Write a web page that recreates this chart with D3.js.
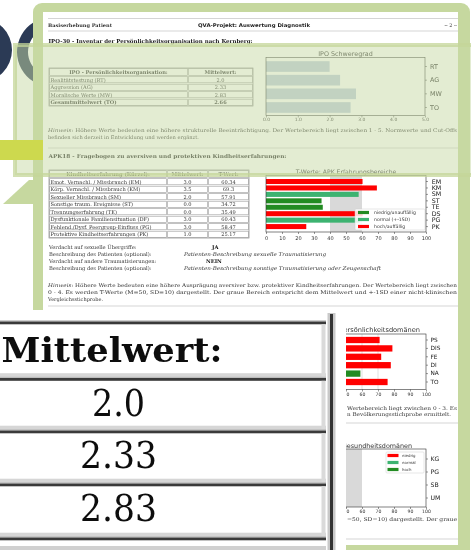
<!DOCTYPE html>
<html>
<head>
<meta charset="utf-8">
<script src="https://cdn.jsdelivr.net/npm/d3@7"></script>
<style>
  body { margin: 0; background: #fff; }
  svg { display: block; }
</style>
</head>
<body>
<script>
// IPO-30
const ipoCodes = ['RT', 'AG', 'MW', 'TO'];
const ipoNames = ['Realitätstestung (RT)', 'Aggression (AG)', 'Moralische Werte (MW)', 'Gesamtmittelwert (TO)'];
const ipoMeans = [2.0, 2.33, 2.83, 2.66];
const ipoTicks = [0, 1, 2, 3, 4, 5];

// APK18
const apkNames = ['Emot. Vernachl. / Missbrauch (EM)', 'Körp. Vernachl. / Missbrauch (KM)', 'Sexueller Missbrauch (SM)',
  'Sonstige traum. Ereignisse (ST)', 'Trennungserfahrung (TE)', 'Dysfunktionale Familiensituation (DF)',
  'Fehlend./Dysf. Peergroup-Einfluss (PG)', 'Protektive Kindheitserfahrungen (PK)'];
const apkCodes = ['EM', 'KM', 'SM', 'ST', 'TE', 'DS', 'PG', 'PK'];
const apkMeans = [3.0, 3.5, 2.0, 0.0, 0.0, 3.0, 3.0, 1.0];
const apkT = [60.34, 69.3, 57.91, 34.72, 35.49, 60.43, 58.47, 25.17];
const apkLevel = ['hoch', 'hoch', 'normal', 'niedrig', 'niedrig', 'hoch', 'normal', 'hoch'];
const apkLegend = ['niedrig/unauffällig', 'normal (+-1SD)', 'hoch/auffällig'];
const tTicks = [0, 10, 20, 30, 40, 50, 60, 70, 80, 90, 100];
const normBand = [40, 60];

// Persönlichkeitsdomänen
const persCodes = ['PS', 'DIS', 'FE', 'DI', 'NA', 'TO'];
const persT = [71, 79, 72, 78, 59, 76];
const persLevel = ['hoch', 'hoch', 'hoch', 'hoch', 'niedrig', 'hoch'];
const persGrid = [60, 70];

// Gesundheitsdomänen (keine Werte)
const gesCodes = ['KG', 'PG', 'SB', 'UM'];
const gesLegend = ['niedrig', 'normal', 'hoch'];
const gesBand = [0, 60];

const serif = '"DejaVu Serif", serif', sans = '"DejaVu Sans", sans-serif';
const navy = '#2b3a55', frameGreen = '#c6d89f';
const apkColor = {niedrig: '#228b22', normal: '#3cb371', hoch: '#ff0000'};
const gesColor = {niedrig: '#ff0000', normal: '#3cb371', hoch: '#228b22'};
const fmtMean = v => (v % 1 === 0 ? v.toFixed(1) : String(v));

const svg = d3.select('body').append('svg').attr('width', 471).attr('height', 550);
const defs = svg.append('defs');
defs.append('filter').attr('id', 'soft').append('feGaussianBlur').attr('stdDeviation', 0.3);
defs.append('filter').attr('id', 'softer').append('feGaussianBlur').attr('stdDeviation', 0.55);

function txt(sel, x, y, s, o = {}) {
  const t = sel.append('text').attr('x', x).attr('y', y).text(s)
    .attr('font-family', o.ff || serif).attr('font-size', o.fs || 5.2).attr('fill', o.fill || '#333');
  if (o.bold) t.attr('font-weight', 'bold');
  if (o.italic) t.attr('font-style', 'italic');
  if (o.anchor) t.attr('text-anchor', o.anchor);
  if (o.len) t.attr('textLength', o.len).attr('lengthAdjust', 'spacingAndGlyphs');
  return t;
}

// --- background logo shapes
svg.append('path').attr('transform', 'translate(-20,50)')
  .attr('d', d3.arc()({innerRadius: 20, outerRadius: 32, startAngle: 0, endAngle: Math.PI}))
  .attr('fill', navy);
svg.append('path').attr('transform', 'translate(52,52)')
  .attr('d', d3.arc()({innerRadius: 24, outerRadius: 35, startAngle: -1.15 * Math.PI, endAngle: 0.15 * Math.PI}))
  .attr('fill', navy);
svg.append('path').attr('d', 'M3,204 L29,180 L36,180 L36,204 Z').attr('fill', frameGreen);

// --- frame + page
svg.append('rect').attr('x', 33).attr('y', 3).attr('width', 437).attr('height', 600).attr('rx', 9).attr('fill', frameGreen);
svg.append('rect').attr('x', 43).attr('y', 12).attr('width', 415).attr('height', 533).attr('fill', '#fff');

const page = svg.append('g').attr('filter', 'url(#soft)');
const hline = (y, x0 = 48, x1 = 458) => page.append('line').attr('x1', x0).attr('x2', x1).attr('y1', y).attr('y2', y)
  .attr('stroke', '#d0d0d0').attr('stroke-width', 0.9);

hline(18.5);
txt(page, 48, 27, 'Basiserhebung Patient', {bold: true, fs: 4.8, len: 64});
txt(page, 198, 27, 'QVA-Projekt: Auswertung Diagnostik', {ff: sans, bold: true, fs: 5, len: 112, fill: '#222'});
txt(page, 457, 27, '-- 2 --', {fs: 4.8, anchor: 'end'});
hline(31);
txt(page, 48.5, 43, 'IPO-30 - Inventar der Persönlichkeitsorganisation nach Kernberg:', {bold: true, fs: 5.4, len: 204, fill: '#222'});

// table helper
function table(g, cols, top, heights, rows) {
  let y = top;
  rows.forEach((row, ri) => {
    const h = heights[ri];
    row.forEach((cell, ci) => {
      const cx0 = cols[ci], cx1 = cols[ci + 1];
      g.append('rect').attr('x', cx0 + 0.7).attr('y', y + 0.7).attr('width', cx1 - cx0 - 1.4).attr('height', h - 1.4)
        .attr('fill', 'none').attr('stroke', '#9a9a9a').attr('stroke-width', 0.6);
      const center = ri === 0 || ci > 0;
      txt(g, center ? (cx0 + cx1) / 2 : cx0 + 1.5, y + h / 2 + 1.9, cell.text,
        {fs: 5.1, bold: cell.bold, anchor: center ? 'middle' : null, fill: '#333'});
    });
    y += h;
  });
  g.append('rect').attr('x', cols[0]).attr('y', top).attr('width', cols[cols.length - 1] - cols[0]).attr('height', y - top)
    .attr('fill', 'none').attr('stroke', '#888').attr('stroke-width', 0.7);
}

// IPO table
const ipoRows = [[{text: 'IPO - Persönlichkeitsorganisation:', bold: true}, {text: 'Mittelwert:', bold: true}]]
  .concat(ipoNames.map((n, i) => [{text: n, bold: i === 3}, {text: fmtMean(ipoMeans[i]), bold: i === 3}]));
table(page, [49, 188, 253], 68, [8, 7.5, 7.5, 7.5, 7.5], ipoRows);

// chart helpers
function frameAxes(g, x, y, box, o) {
  const [fx0, fx1, fy0, fy1] = box;
  g.append('g').attr('transform', `translate(0,${fy1})`)
    .call(d3.axisBottom(x).tickValues(o.ticks).tickSize(2).tickPadding(o.pad))
    .call(a => a.select('.domain').remove())
    .call(a => a.selectAll('text').attr('font-family', sans).attr('font-size', o.tickFs).attr('fill', '#333'))
    .call(a => a.selectAll('line').attr('stroke', '#333').attr('stroke-width', 0.5));
  g.append('g').attr('transform', `translate(${fx1},0)`)
    .call(d3.axisRight(y).tickSize(2).tickPadding(o.ypad))
    .call(a => a.select('.domain').remove())
    .call(a => a.selectAll('text').attr('font-family', sans).attr('font-size', o.labFs).attr('fill', '#222'))
    .call(a => a.selectAll('line').attr('stroke', '#333').attr('stroke-width', 0.5));
  g.append('rect').attr('x', fx0).attr('y', fy0).attr('width', fx1 - fx0).attr('height', fy1 - fy0)
    .attr('fill', 'none').attr('stroke', '#333').attr('stroke-width', 0.6);
}
function legend(g, box, items, o) {
  const [lx0, lx1, ly0, ly1] = box;
  g.append('rect').attr('x', lx0).attr('y', ly0).attr('width', lx1 - lx0).attr('height', ly1 - ly0).attr('rx', 1)
    .attr('fill', '#fff').attr('fill-opacity', 0.85).attr('stroke', '#ccc').attr('stroke-width', 0.5);
  const step = (ly1 - ly0) / items.length;
  items.forEach((it, i) => {
    const cy = ly0 + step * (i + 0.5);
    g.append('rect').attr('x', lx0 + o.px).attr('y', cy - 1.6).attr('width', o.pw).attr('height', 3.2).attr('fill', it.color);
    txt(g, lx0 + o.px + o.pw + o.gap, cy + o.fs * 0.36, it.label, {ff: sans, fs: o.fs, fill: '#333'});
  });
}

// IPO chart
const ipoX = d3.scaleLinear().domain([0, 5]).range([266, 425]);
const ipoY = d3.scaleBand().domain(ipoCodes).range([59.7, 114.3]).paddingInner(0.22).paddingOuter(0.11);
txt(page, 345.5, 55.5, 'IPO Schweregrad', {ff: sans, fs: 6.4, anchor: 'middle'});
page.append('g').selectAll('rect').data(ipoMeans).join('rect')
  .attr('x', ipoX(0)).attr('y', (d, i) => ipoY(ipoCodes[i]))
  .attr('width', d => ipoX(d) - ipoX(0)).attr('height', ipoY.bandwidth()).attr('fill', '#bccbdc');
frameAxes(page, ipoX, ipoY, [266, 425, 57.5, 115.5], {ticks: ipoTicks, pad: 0.8, tickFs: 4.5, ypad: 3, labFs: 6.4});

txt(page, 48, 132, null, {fs: 5, len: 409}).call(t => {
  t.append('tspan').attr('font-style', 'italic').text('Hinweis:');
  t.append('tspan').text(' Höhere Werte bedeuten eine höhere strukturelle Beeinträchtigung. Der Wertebereich liegt zwischen 1 - 5. Normwerte und Cut-Offs');
});
txt(page, 48, 139, 'befinden sich derzeit in Entwicklung und werden ergänzt.', {fs: 5, len: 151});
hline(148);
txt(page, 48.5, 158, 'APK18 - Fragebogen zu aversiven und protektiven Kindheitserfahrungen:', {bold: true, fs: 5.3, len: 238, fill: '#222'});

// APK table
const apkRows = [[{text: 'Kindheitserfahrung (Kürzel):', bold: true}, {text: 'Mittelwert:', bold: true}, {text: 'T-Wert:', bold: true}]]
  .concat(apkNames.map((n, i) => [{text: n}, {text: fmtMean(apkMeans[i])}, {text: String(apkT[i])}]));
table(page, [49, 167, 208, 249], 170, [8].concat(apkNames.map(() => 7.5)), apkRows);

// APK chart
const tX = d3.scaleLinear().domain([0, 100]).range([266, 426]);
const apkY = d3.scaleBand().domain(apkCodes).range([178.3, 229.8]).paddingInner(0.22).paddingOuter(0.11);
txt(page, 346, 173.5, 'T-Werte: APK Erfahrungsbereiche', {ff: sans, fs: 6.1, anchor: 'middle'});
page.append('rect').attr('x', tX(normBand[0])).attr('y', 175.5).attr('width', tX(normBand[1]) - tX(normBand[0]))
  .attr('height', 232 - 175.5).attr('fill', '#d9d9d9');
page.append('g').selectAll('rect').data(apkT).join('rect')
  .attr('x', tX(0)).attr('y', (d, i) => apkY(apkCodes[i]))
  .attr('width', d => tX(d) - tX(0)).attr('height', apkY.bandwidth())
  .attr('fill', (d, i) => apkColor[apkLevel[i]]);
legend(page, [355, 425, 209, 230], apkLegend.map((l, i) => ({label: l, color: Object.values(apkColor)[i]})),
  {px: 3, pw: 11, gap: 5, fs: 4.6});
frameAxes(page, tX, apkY, [266, 426, 175.5, 232], {ticks: tTicks, pad: 2, tickFs: 5, ypad: 3.7, labFs: 6.3});

// Verdacht
txt(page, 49, 249, 'Verdacht auf sexuelle Übergriffe:');
txt(page, 212, 249, 'JA', {bold: true, fill: '#111'});
txt(page, 49, 256, 'Beschreibung des Patienten (optional):');
txt(page, 184, 256, 'Patienten-Beschreibung sexuelle Traumatisierung', {italic: true, len: 142});
txt(page, 49, 263, 'Verdacht auf andere Traumatisierungen:');
txt(page, 206, 263, 'NEIN', {bold: true, fill: '#111'});
txt(page, 49, 270, 'Beschreibung des Patienten (optional):');
txt(page, 184, 270, 'Patienten-Beschreibung sonstige Traumatisierung oder Zeugenschaft', {italic: true, len: 197});

txt(page, 48, 287, null, {fs: 5, len: 409}).call(t => {
  t.append('tspan').attr('font-style', 'italic').text('Hinweis:');
  t.append('tspan').text(' Höhere Werte bedeuten eine höhere Ausprägung aversiver bzw. protektiver Kindheitserfahrungen. Der Wertebereich liegt zwischen');
});
txt(page, 48, 294, '0 - 4. Es werden T-Werte (M=50, SD=10) dargestellt. Der graue Bereich entspricht dem Mittelwert und +-1SD einer nicht-klinischen', {fs: 5, len: 409});
txt(page, 48, 301, 'Vergleichsstichprobe.', {fs: 5});
hline(306);

// Persönlichkeitsdomänen chart (left part hidden by the inset)
const persY = d3.scaleBand().domain(persCodes).range([335.8, 386.2]).paddingInner(0.25).paddingOuter(0.125);
txt(page, 420, 331.5, 'T-Werte: Persönlichkeitsdomänen', {ff: sans, fs: 6.6, anchor: 'end'});
page.append('g').selectAll('line').data(persGrid).join('line')
  .attr('x1', d => tX(d)).attr('x2', d => tX(d)).attr('y1', 334).attr('y2', 389.5)
  .attr('stroke', '#cfcfcf').attr('stroke-width', 0.6);
page.append('g').selectAll('rect').data(persT).join('rect')
  .attr('x', tX(0)).attr('y', (d, i) => persY(persCodes[i]))
  .attr('width', d => tX(d) - tX(0)).attr('height', persY.bandwidth())
  .attr('fill', (d, i) => apkColor[persLevel[i]]);
frameAxes(page, tX, persY, [266, 426, 334, 389.5], {ticks: tTicks, pad: 1.5, tickFs: 4.6, ypad: 2.5, labFs: 5.8});
txt(page, 347, 410, 'Wertebereich liegt zwischen 0 - 3. Es', {fs: 5.2, len: 110});
txt(page, 347, 415.8, 'n Bevölkerungsstichprobe ermittelt.', {fs: 5.2, len: 104});
hline(423);

// Gesundheitsdomänen chart
const gesY = d3.scaleBand().domain(gesCodes).range([452.5, 504.5]).paddingInner(0.25).paddingOuter(0.125);
txt(page, 412, 448, 'T-Werte: Gesundheitsdomänen', {ff: sans, fs: 6.4, anchor: 'end'});
page.append('rect').attr('x', tX(gesBand[0])).attr('y', 449).attr('width', tX(gesBand[1]) - tX(gesBand[0]))
  .attr('height', 507 - 449).attr('fill', '#d9d9d9');
legend(page, [386, 424, 452, 473], gesLegend.map(l => ({label: l, color: gesColor[l]})),
  {px: 1.5, pw: 11, gap: 3.5, fs: 3.9});
frameAxes(page, tX, gesY, [266, 426, 449, 507], {ticks: tTicks, pad: 0.8, tickFs: 4.6, ypad: 2.5, labFs: 6.2});
txt(page, 347, 521, '=50, SD=10) dargestellt. Der graue', {fs: 5.2, len: 110});
hline(539);

// --- translucent overlay box
svg.append('rect').attr('x', 15).attr('y', 45).attr('width', 470).attr('height', 130)
  .attr('fill', 'rgb(200,218,165)').attr('fill-opacity', 0.5)
  .attr('stroke', 'rgb(196,214,152)').attr('stroke-opacity', 0.75).attr('stroke-width', 4);

// lime band
svg.append('rect').attr('x', 0).attr('y', 140).attr('width', 43).attr('height', 20).attr('fill', '#cdd94e');

// --- magnified inset of the IPO mean column
const inset = svg.append('g');
inset.append('rect').attr('x', -5).attr('y', 310).attr('width', 351).attr('height', 245).attr('fill', '#fff');
const rowTops = [321.5, 378, 430.5, 483.5, 537.5];
const cellText = ['Mittelwert:'].concat(ipoMeans.slice(0, 3).map(fmtMean));
const cellWidth = [221, 53, 77, 77];
const cellCenter = [112, 118.5, 118.5, 118.5];
rowTops.forEach((top, i) => {
  const bottom = i + 1 < rowTops.length ? rowTops[i + 1] : 550;
  inset.append('rect').attr('x', -5).attr('y', top - 1.2).attr('width', 331).attr('height', 1.2).attr('fill', '#bbb');
  inset.append('rect').attr('x', -5).attr('y', top).attr('width', 331).attr('height', 2.8).attr('fill', '#3a3a3a');
  if (i + 1 < rowTops.length) {
    inset.append('rect').attr('x', -5).attr('y', bottom - 4.8).attr('width', 331).attr('height', 4.2).attr('fill', '#d6d6d6');
    inset.append('rect').attr('x', 321.5).attr('y', top + 2.8).attr('width', 4).attr('height', bottom - top - 3).attr('fill', '#dadada');
  }
});
inset.append('rect').attr('x', -5).attr('y', 546).attr('width', 331).attr('height', 4).attr('fill', '#d0d0d0');
inset.append('rect').attr('x', 327.5).attr('y', 313).attr('width', 8).attr('height', 240).attr('fill', '#c9c9c9');
inset.append('rect').attr('x', 330).attr('y', 314).attr('width', 3).attr('height', 240).attr('fill', '#333');
const insetText = inset.append('g').attr('filter', 'url(#softer)');
cellText.forEach((s, i) => {
  const base = i === 0 ? rowTops[0] + 40.5 : rowTops[i] + 37.5;
  txt(insetText, cellCenter[i], base, s, {fs: i === 0 ? 34 : 38, bold: i === 0, anchor: 'middle', fill: '#111', len: cellWidth[i]});
});
</script>
</body>
</html>
